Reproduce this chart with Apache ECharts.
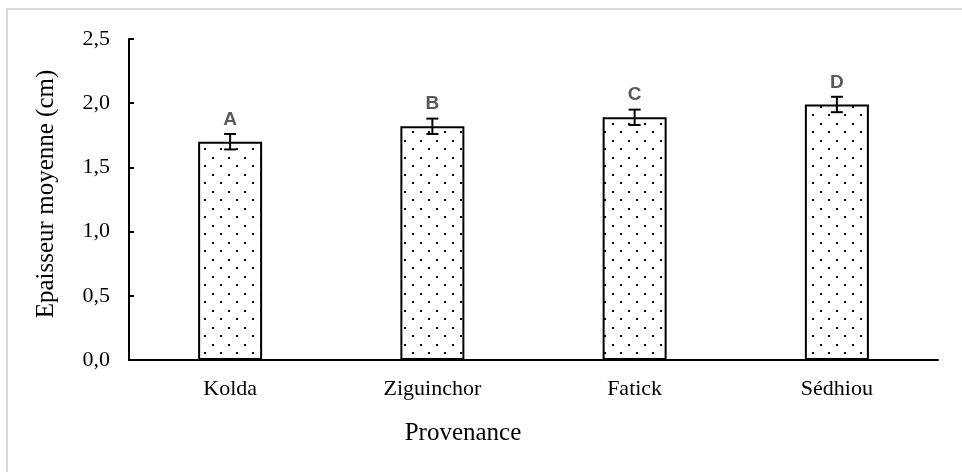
<!DOCTYPE html>
<html>
<head>
<meta charset="utf-8">
<script src="https://cdn.jsdelivr.net/npm/echarts@6/dist/echarts.min.js"></script>
<style>
  html, body { margin: 0; padding: 0; background: #fff; }
  #chart { width: 962px; height: 472px; }
</style>
</head>
<body>
<div id="chart"></div>
<script>
// Mean thickness by provenance, with standard error and group letters
const categories = ['Kolda', 'Ziguinchor', 'Fatick', 'Sédhiou'];
const means = [1.70, 1.82, 1.89, 1.99];
const errors = [0.06, 0.06, 0.06, 0.06];
const groups = ['A', 'B', 'C', 'D'];
const yTicks = { min: 0, max: 2.5, interval: 0.5 };

// Dotted fill pattern for the bars
function makeDots() {
  const c = document.createElement('canvas');
  c.width = 16; c.height = 17;
  const g = c.getContext('2d');
  g.fillStyle = '#ffffff';
  g.fillRect(0, 0, 16, 17);
  g.fillStyle = '#000000';
  g.fillRect(4, 4, 2, 2);
  g.fillRect(12, 12, 2, 2);
  return c;
}

const serif = '"Liberation Serif", "Times New Roman", serif';
const chart = echarts.init(document.getElementById('chart'));

chart.setOption({
  animation: false,
  backgroundColor: '#ffffff',
  grid: { left: 129, right: 24, top: 39, bottom: 112 },
  xAxis: {
    type: 'category',
    data: categories,
    axisLine: { lineStyle: { color: '#000', width: 2 } },
    axisTick: { show: false },
    axisLabel: { color: '#000', fontFamily: serif, fontSize: 22, margin: 18 }
  },
  yAxis: {
    type: 'value',
    min: yTicks.min, max: yTicks.max, interval: yTicks.interval,
    splitLine: { show: false },
    axisLine: { show: true, lineStyle: { color: '#000', width: 2 } },
    axisTick: { show: true, inside: true, length: 5, lineStyle: { color: '#000', width: 2 } },
    axisLabel: {
      color: '#000', fontFamily: serif, fontSize: 22, margin: 19,
      formatter: v => v.toFixed(1).replace('.', ',')
    }
  },
  graphic: [
    {
      type: 'rect', silent: true, z: -1,
      shape: { x: 7, y: 9, width: 1000, height: 1000 },
      style: { fill: 'none', stroke: '#d9d9d9', lineWidth: 2 }
    },
    {
      type: 'text', x: 463, y: 433,
      style: { text: 'Provenance', font: '25px ' + serif, fill: '#000', align: 'center', verticalAlign: 'middle' }
    },
    {
      type: 'text', x: 46, y: 194, rotation: Math.PI / 2,
      style: { text: 'Epaisseur moyenne (cm)', font: '25px ' + serif, fill: '#000', align: 'center', verticalAlign: 'middle' }
    }
  ],
  series: [
    {
      type: 'bar',
      data: means,
      barWidth: 64,
      itemStyle: {
        color: { image: makeDots(), repeat: 'repeat' },
        borderColor: '#000',
        borderWidth: 2
      }
    },
    {
      type: 'custom',
      data: means.map((m, i) => [i, m, errors[i]]),
      renderItem: function (params, api) {
        const i = api.value(0);
        const m = api.value(1);
        const e = api.value(2);
        const top = api.coord([i, m + e]);
        const bot = api.coord([i, m - e]);
        const half = 6;
        const st = { stroke: '#000', lineWidth: 2 };
        return {
          type: 'group',
          children: [
            { type: 'line', shape: { x1: top[0], y1: top[1], x2: bot[0], y2: bot[1] }, style: st },
            { type: 'line', shape: { x1: top[0] - half, y1: top[1], x2: top[0] + half, y2: top[1] }, style: st },
            { type: 'line', shape: { x1: bot[0] - half, y1: bot[1], x2: bot[0] + half, y2: bot[1] }, style: st },
            {
              type: 'text',
              x: top[0], y: top[1] - 5,
              style: {
                text: groups[params.dataIndex],
                font: 'bold 19px "Liberation Sans", Arial, sans-serif',
                fill: '#595959', align: 'center', verticalAlign: 'bottom'
              }
            }
          ]
        };
      },
      z: 5
    }
  ]
});
</script>
</body>
</html>
